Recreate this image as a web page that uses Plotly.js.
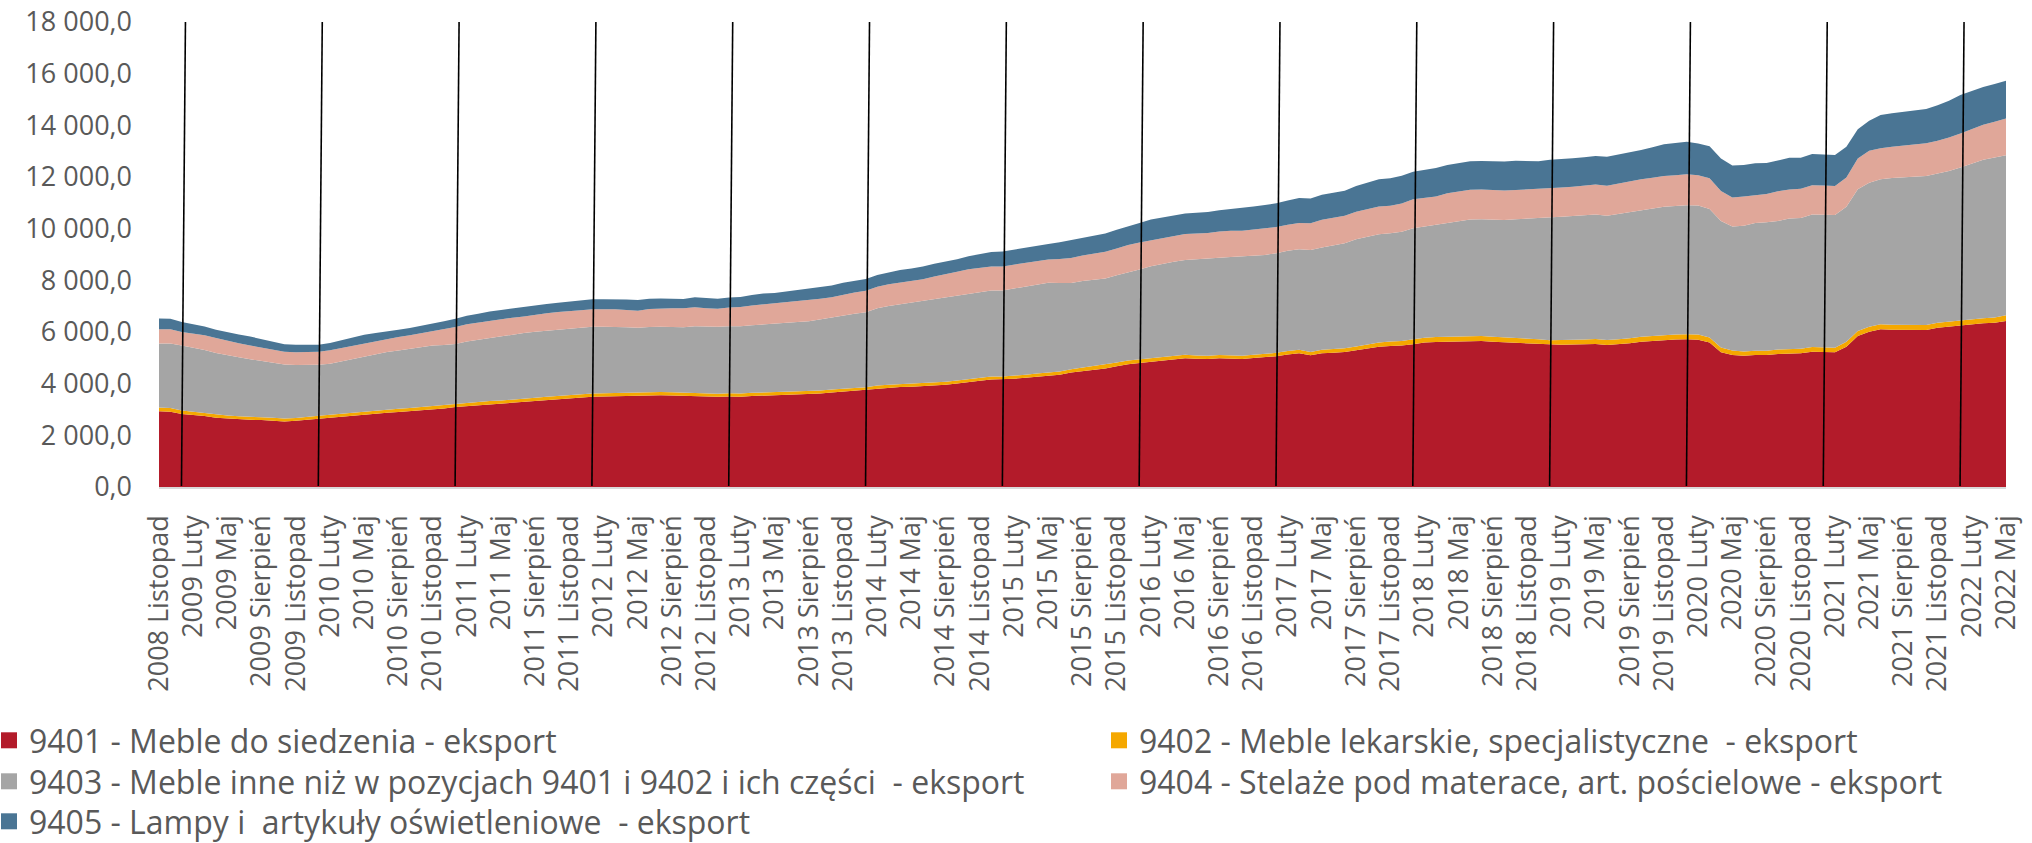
<!DOCTYPE html>
<html>
<head>
<meta charset="utf-8">
<script src="https://cdn.plot.ly/plotly-3.0.1.min.js"></script>
<style>html,body{margin:0;padding:0;background:#fff;}#chart{width:2032px;height:843px;}</style>
</head>
<body>
<div id="chart"></div>
<script>
// ---- category labels (monthly, 2008 Listopad .. 2022 Maj) ----
const monthNames = ['Styczeń','Luty','Marzec','Kwiecień','Maj','Czerwiec','Lipiec','Sierpień','Wrzesień','Październik','Listopad','Grudzień'];
const firstYear = 2008;
const firstMonth = 10;   // Listopad
const monthCount = 163;
const categories = [];
for (let k = 0; k < monthCount; k++) {
  const m = firstMonth + k;
  categories.push((firstYear + Math.floor(m / 12)) + ' ' + monthNames[m % 12]);
}

// ---- series values (mln) ----
const s9401 = [
2930,2910,2830,2790,2750,2680,2650,2630,2600,2590,2575,2540,
2560,2610,2640,2680,2720,2770,2800,2830,2870,2900,2930,2970,
3000,3040,3095,3130,3160,3200,3220,3250,3280,3330,3370,3410,
3445,3470,3496,3505,3520,3525,3530,3560,3555,3540,3523,3530,
3500,3490,3505,3496,3520,3534,3540,3555,3575,3588,3620,3655,
3695,3725,3750,3815,3850,3870,3885,3905,3935,3960,4010,4050,
4110,4165,4170,4190,4230,4270,4300,4350,4430,4480,4540,4590,
4670,4750,4800,4845,4900,4960,4985,4960,4955,4980,4975,4955,
4990,5020,5060,5130,5175,5098,5175,5200,5230,5290,5360,5430,
5458,5475,5530,5590,5615,5625,5640,5660,5650,5620,5600,5586,
5560,5530,5500,5505,5520,5524,5535,5497,5530,5562,5625,5660,
5690,5710,5717,5700,5590,5220,5110,5083,5110,5110,5148,5175,
5175,5238,5238,5214,5431,5845,6012,6105,6090,6078,6080,6078,
6160,6210,6265,6300,6337,6360,6426];

const s9402 = [
150,145,135,128,122,118,115,112,112,110,110,110,
112,115,118,120,120,122,122,125,125,125,125,125,
128,128,130,130,130,128,128,126,125,125,126,125,
125,126,128,128,128,126,125,125,125,125,127,125,
122,120,122,122,125,125,125,122,120,118,116,115,
115,112,110,110,110,108,108,110,112,115,115,118,
118,115,112,115,118,120,122,125,130,140,150,155,
150,145,140,138,135,132,130,128,125,125,125,125,
128,130,132,135,135,130,135,140,145,150,155,160,
170,178,185,190,192,194,194,194,194,194,194,192,
190,188,185,182,182,185,190,193,194,194,194,195,
196,198,200,205,195,180,170,165,165,168,170,175,
180,185,185,180,190,195,195,195,195,195,195,195,
195,195,196,198,200,205,225];

const s9403 = [
2477,2500,2516,2480,2430,2388,2330,2280,2233,2180,2130,2090,
2050,1990,1975,1974,2020,2080,2130,2180,2230,2260,2300,2340,
2350,2330,2310,2370,2410,2450,2490,2530,2555,2550,2543,2550,
2555,2565,2578,2570,2555,2530,2505,2510,2520,2525,2532,2570,
2585,2590,2595,2600,2615,2640,2665,2680,2695,2710,2760,2800,
2840,2870,2900,2990,3050,3100,3140,3180,3240,3270,3300,3329,
3330,3329,3329,3380,3420,3460,3484,3420,3340,3350,3340,3329,
3380,3430,3480,3560,3600,3630,3670,3720,3745,3770,3800,3840,
3838,3833,3860,3880,3898,3948,3960,4010,4060,4150,4180,4193,
4190,4230,4297,4300,4330,4413,4450,4500,4520,4535,4545,4585,
4630,4680,4750,4770,4790,4810,4827,4812,4850,4878,4905,4930,
4966,4966,4985,4993,4980,4900,4800,4862,4943,4970,4981,5044,
5059,5121,5121,5133,5225,5485,5575,5613,5680,5717,5740,5768,
5783,5830,5911,6020,6128,6194,6194];

const s9404 = [
554,550,518,540,570,580,560,540,531,515,500,491,
495,500,503,515,515,515,516,517,518,518,518,518,
560,610,655,674,672,670,660,650,642,665,685,690,
697,685,674,674,674,668,660,700,713,725,736,730,
715,700,730,750,770,774,774,790,805,813,790,776,
800,820,836,840,841,838,836,845,860,880,905,928,
929,929,929,920,912,905,902,930,965,990,1010,1029,
1035,1040,1045,1010,1006,1006,1006,1007,1010,1015,1018,995,
1015,1033,1010,1006,1007,1034,1073,1070,1068,1068,1070,1072,
1072,1096,1123,1115,1111,1138,1145,1150,1148,1140,1134,1135,
1137,1138,1138,1137,1135,1150,1161,1162,1175,1184,1188,1189,
1189,1195,1201,1170,1188,1161,1123,1138,1084,1095,1146,1122,
1135,1135,1123,1123,1138,1188,1238,1200,1210,1230,1250,1266,
1263,1290,1316,1335,1355,1378,1418];

const s9405 = [
414,410,386,370,345,322,330,340,348,320,305,295,
285,275,271,286,300,312,321,305,290,283,282,282,
295,310,320,321,335,348,355,360,364,362,360,360,
360,372,387,392,399,405,414,390,387,372,360,395,
410,387,387,387,400,414,410,420,430,441,448,454,
453,453,453,451,460,480,492,492,491,490,489,510,
535,557,580,580,581,581,600,650,700,695,700,713,
725,740,759,801,801,801,800,797,810,825,839,878,
890,902,920,940,968,956,967,968,968,995,1030,1057,
1065,1072,1069,1085,1096,1096,1100,1105,1110,1120,1123,1134,
1100,1069,1095,1097,1098,1099,1096,1122,1123,1123,1134,1180,
1227,1250,1262,1227,1239,1254,1239,1212,1227,1200,1201,1227,
1200,1215,1200,1201,1185,1135,1162,1289,1289,1300,1315,1327,
1381,1430,1482,1470,1460,1460,1458];

const seriesNames = [
  '9401 - Meble do siedzenia - eksport',
  '9402 - Meble lekarskie, specjalistyczne\u00a0 - eksport',
  '9403 - Meble inne niż w pozycjach 9401 i 9402 i ich części\u00a0 - eksport',
  '9404 - Stelaże pod materace, art. pościelowe - eksport',
  '9405 - Lampy i\u00a0 artykuły oświetleniowe\u00a0 - eksport'
];
const seriesColors = ['#B31B2A', '#F5A800', '#A5A5A5', '#E0A799', '#4A7594'];
const seriesValues = [s9401, s9402, s9403, s9404, s9405];

// year boundary marker lines (January of each year)
const yearMarks = ['2009 Styczeń','2010 Styczeń','2011 Styczeń','2012 Styczeń','2013 Styczeń','2014 Styczeń','2015 Styczeń',
                   '2016 Styczeń','2017 Styczeń','2018 Styczeń','2019 Styczeń','2020 Styczeń','2021 Styczeń','2022 Styczeń'];

seriesValues.forEach((s, i) => {
  if (s.length !== categories.length) throw new Error('series ' + i + ' length ' + s.length + ' != ' + categories.length);
});

const FONT = '"Open Sans", "Noto Sans", sans-serif';
const TXT = '#595959';

const traces = [];
seriesValues.forEach((vals, i) => {
  traces.push({
    type: 'scatter', mode: 'lines', x: categories, y: vals, name: seriesNames[i],
    stackgroup: 'one', line: {width: 0, color: seriesColors[i]}, fillcolor: seriesColors[i],
    showlegend: false, hoverinfo: 'x+y+name'
  });
});

// legend placement: 2 columns x 3 rows
const legendIds = ['legend', 'legend2', 'legend3', 'legend4', 'legend5'];
seriesValues.forEach((vals, i) => {
  traces.push({
    type: 'scatter', mode: 'markers', x: [null], y: [null], name: seriesNames[i],
    marker: {symbol: 'square', size: 16, color: seriesColors[i], line: {width: 0}},
    showlegend: true, legend: legendIds[i], hoverinfo: 'skip'
  });
});

const plotL = 159, plotR = 2006, plotT = 22, plotB = 487;
const pw = plotR - plotL, ph = plotB - plotT;
const colX = [-11, 1099];
const rowTop = [713, 754, 794];
function legendAt(col, row) {
  return {
    x: (colX[col] - plotL) / pw, xanchor: 'left',
    y: (plotB - rowTop[row]) / ph, yanchor: 'top',
    orientation: 'v', bgcolor: 'rgba(0,0,0,0)', borderwidth: 0,
    font: {family: FONT, size: 32, color: TXT}, itemwidth: 30
  };
}

const shapes = yearMarks.map(lbl => {
  const idx = categories.indexOf(lbl);
  return {
    type: 'line', xref: 'x', yref: 'y', layer: 'above',
    x0: idx - 0.03, x1: idx + 0.32, y0: 40, y1: 18000,
    line: {color: '#000000', width: 1.6}
  };
});

const layout = {
  width: 2032, height: 843,
  margin: {l: plotL, r: 2032 - plotR, t: plotT, b: 843 - plotB, autoexpand: false},
  paper_bgcolor: '#ffffff', plot_bgcolor: '#ffffff',
  separators: ', ',
  font: {family: FONT, color: TXT},
  showlegend: true,
  xaxis: {
    type: 'category', range: [0, categories.length - 1], autorange: false,
    tickmode: 'linear', tick0: 0, dtick: 3,
    tickangle: -90, ticks: '', showgrid: false, zeroline: false,
    showline: true, linecolor: '#D9D9D9', linewidth: 1.5,
    tickfont: {family: FONT, size: 27, color: TXT},
    ticklabelstandoff: 16, automargin: false
  },
  yaxis: {
    range: [0, 18000], autorange: false, tickmode: 'linear', tick0: 0, dtick: 2000,
    tickformat: ',.1f', showgrid: false, zeroline: false, showline: false, ticks: '',
    tickfont: {family: FONT, size: 27, color: TXT},
    ticklabelstandoff: 26, automargin: false
  },
  legend: legendAt(0, 0),
  legend2: legendAt(1, 0),
  legend3: legendAt(0, 1),
  legend4: legendAt(1, 1),
  legend5: legendAt(0, 2),
  shapes: shapes
};

Plotly.newPlot('chart', traces, layout, {staticPlot: true, displayModeBar: false});
</script>
</body>
</html>
